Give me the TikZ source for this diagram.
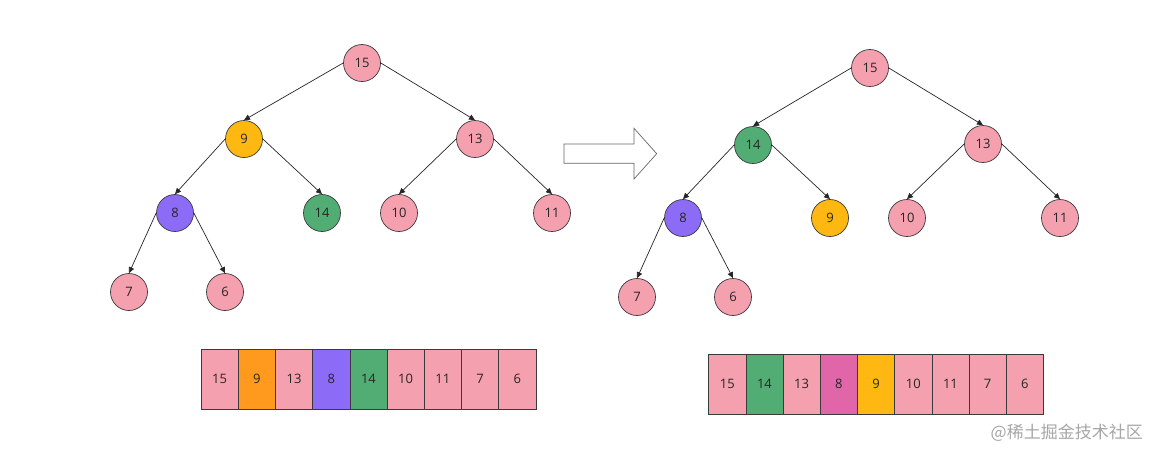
\documentclass[tikz,border=0pt]{standalone}
\usepackage{fontspec}
\setmainfont{Open Sans}
\newfontfamily\cjk{Noto Sans CJK SC}
\usetikzlibrary{arrows.meta}
\definecolor{hpink}{HTML}{F5A0AE}
\definecolor{horange}{HTML}{FF9A1E}
\definecolor{hyellow}{HTML}{FFB811}
\definecolor{hpurple}{HTML}{8C6CF7}
\definecolor{hgreen}{HTML}{52AD74}
\definecolor{hmagenta}{HTML}{E066A9}
\definecolor{hline}{HTML}{3A3A3A}
\tikzset{
  hnode/.style={circle,draw=hline,line width=0.7pt,minimum size=37pt,inner sep=0pt,font=\fontsize{13}{15}\selectfont,text=black!85},
  hedge/.style={draw=black!85,line width=0.7pt,-{Triangle[length=6pt,width=5.5pt]}},
  hcell/.style={rectangle,draw=hline,line width=0.7pt,minimum width=37.2pt,minimum height=60pt,inner sep=0pt,anchor=west,font=\fontsize{13}{15}\selectfont,text=black!85}
}
\begin{document}
\begin{tikzpicture}[x=1pt,y=-1pt]
\useasboundingbox (0,0) rectangle (1158,459);
% left tree
\node[hnode,fill=hpink] (a15) at (362,63) {15};
\node[hnode,fill=hyellow] (a9) at (244,139) {9};
\node[hnode,fill=hpink] (a13) at (475,139) {13};
\node[hnode,fill=hpurple] (a8) at (175,213) {8};
\node[hnode,fill=hgreen] (a14) at (322,213) {14};
\node[hnode,fill=hpink] (a10) at (399,213) {10};
\node[hnode,fill=hpink] (a11) at (552,213) {11};
\node[hnode,fill=hpink] (a7) at (129,292) {7};
\node[hnode,fill=hpink] (a6) at (225,292) {6};
\draw[hedge] (a15.west) -- (a9.north);
\draw[hedge] (a15.east) -- (a13.north);
\draw[hedge] (a9.west) -- (a8.north);
\draw[hedge] (a9.east) -- (a14.north);
\draw[hedge] (a13.west) -- (a10.north);
\draw[hedge] (a13.east) -- (a11.north);
\draw[hedge] (a8.west) -- (a7.north);
\draw[hedge] (a8.east) -- (a6.north);
% right tree
\node[hnode,fill=hpink] (b15) at (870,68) {15};
\node[hnode,fill=hgreen] (b14) at (753,145) {14};
\node[hnode,fill=hpink] (b13) at (983,144) {13};
\node[hnode,fill=hpurple] (b8) at (683,218) {8};
\node[hnode,fill=hyellow] (b9) at (830,218) {9};
\node[hnode,fill=hpink] (b10) at (907,218) {10};
\node[hnode,fill=hpink] (b11) at (1060,218) {11};
\node[hnode,fill=hpink] (b7) at (637,297) {7};
\node[hnode,fill=hpink] (b6) at (733,297) {6};
\draw[hedge] (b15.west) -- (b14.north);
\draw[hedge] (b15.east) -- (b13.north);
\draw[hedge] (b14.west) -- (b8.north);
\draw[hedge] (b14.east) -- (b9.north);
\draw[hedge] (b13.west) -- (b10.north);
\draw[hedge] (b13.east) -- (b11.north);
\draw[hedge] (b8.west) -- (b7.north);
\draw[hedge] (b8.east) -- (b6.north);
% left array
\foreach \v/\c [count=\i from 0] in {15/hpink,9/horange,13/hpink,8/hpurple,14/hgreen,10/hpink,11/hpink,7/hpink,6/hpink}
  \node[hcell,fill=\c] (la\i) at ({200.7+37.2*\i},379.3) {\v};
% right array
\foreach \v/\c [count=\i from 0] in {15/hpink,14/hgreen,13/hpink,8/hmagenta,9/hyellow,10/hpink,11/hpink,7/hpink,6/hpink}
  \node[hcell,fill=\c] (ra\i) at ({708.3+37.2*\i},384.3) {\v};
% big arrow
\draw[draw=black!60,line width=0.7pt,fill=white] (564,144) -- (634,144) -- (634,128.3) -- (656.7,153.7) -- (634,179) -- (634,163.3) -- (564,163.3) -- cycle;
% watermark
\node[anchor=east,text=black!35,font=\cjk\fontsize{17}{19}\selectfont,inner sep=0pt] (wm) at (1143,433) {@稀土掘金技术社区};
\end{tikzpicture}
\end{document}
